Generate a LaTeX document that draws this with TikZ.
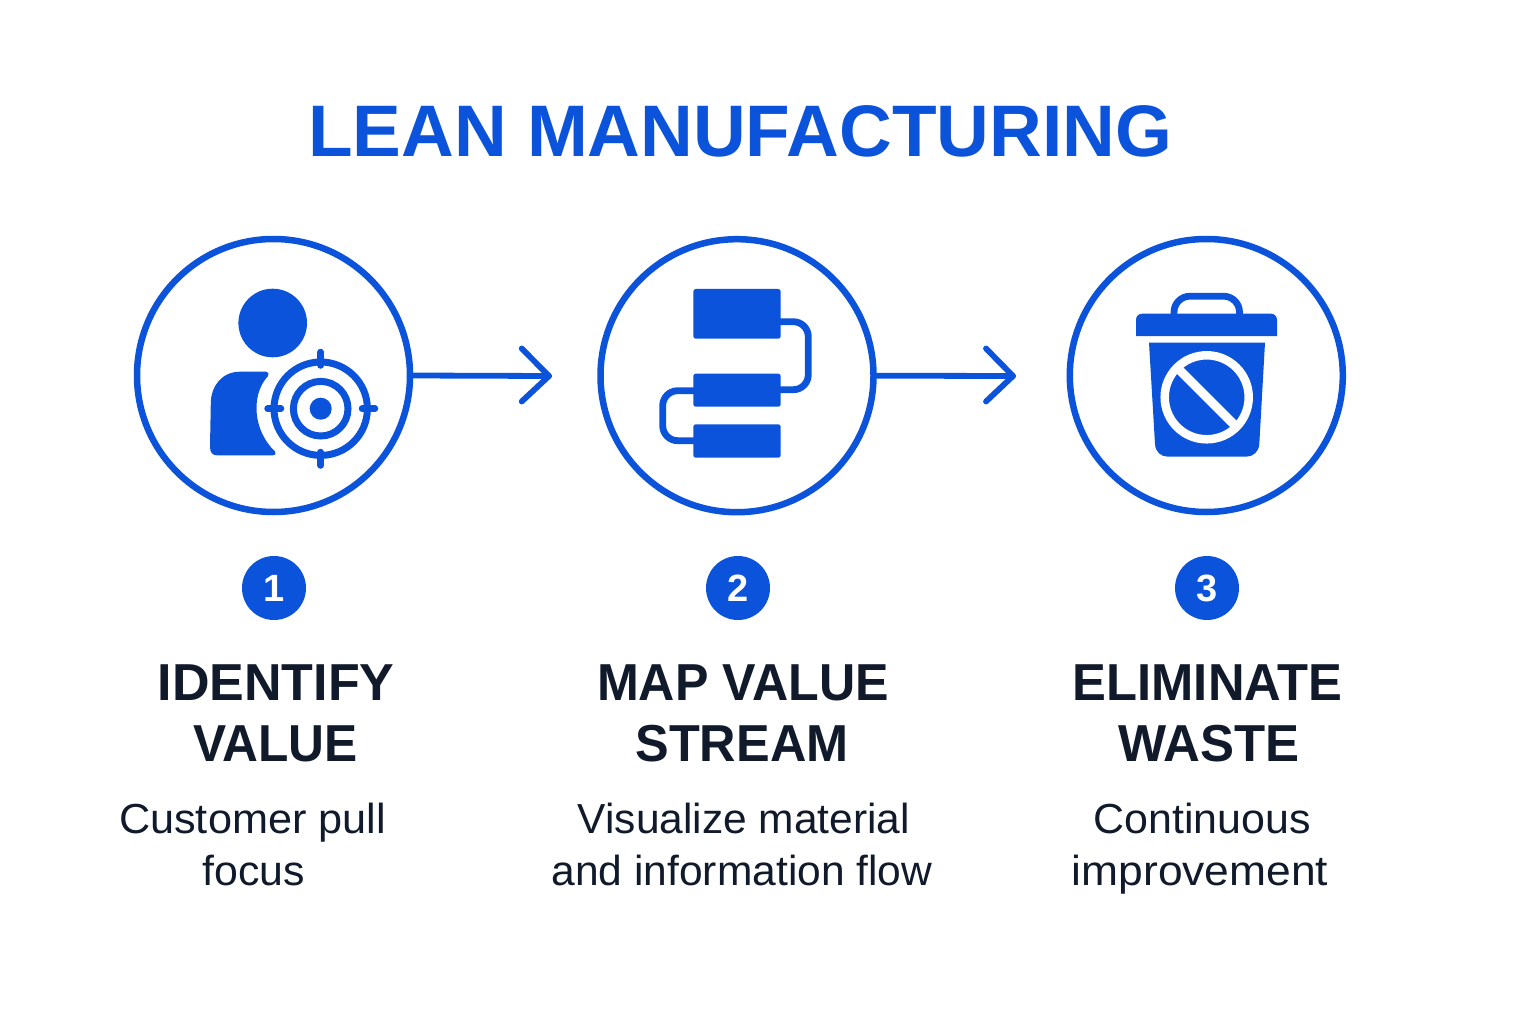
\documentclass[tikz,border=0pt]{standalone}
\usepackage{fontspec}
\setmainfont{Liberation Sans}
\definecolor{leanblue}{HTML}{0A53DA}
\definecolor{leandark}{HTML}{111A2B}
\newcommand{\fs}[1]{\fontsize{#1}{#1}\selectfont}
\newcommand{\hs}[2]{\scalebox{#1}[1]{#2}}
\tikzset{
  ring/.style={circle,draw=leanblue,line width=6.5pt,fill=white,minimum size=273pt,inner sep=0pt},
  flow/.style={draw=leanblue,line width=5.8pt,line cap=round,line join=round},
  solidblue/.style={fill=leanblue,draw=none},
  thick line/.style={draw=leanblue,line width=6.8pt},
  badge/.style={circle,fill=leanblue,minimum size=64pt,inner sep=0pt,text=white,font=\fs{38}\bfseries},
  titletxt/.style={text=leanblue,font=\fs{73}\bfseries,inner sep=0pt,anchor=base},
  headtxt/.style={text=leandark,font=\fs{52}\bfseries,inner sep=0pt,anchor=base},
  desctxt/.style={text=leandark,font=\fs{42},inner sep=0pt,anchor=base},
}
\begin{document}
\begin{tikzpicture}[x=1pt,y=-1pt]
\useasboundingbox (0,0) rectangle (1536,1024);
\fill[white] (0,0) rectangle (1536,1024);
\node[titletxt] (title) at (740,156.5) {LEAN MANUFACTURING};

\node[ring] (c1) at (273.5,375.5) {};
\node[ring] (c2) at (737,375.7) {};
\node[ring] (c3) at (1206.3,375.5) {};

\coordinate (t1) at (549,376);
\coordinate (t2) at (1013,376);
\coordinate (u1) at (521.7,348.5);
\coordinate (l1) at (521.7,401.5);
\coordinate (u2) at (986,348.5);
\coordinate (l2) at (986,401.5);
\draw[flow] (c1.east) -- (t1);
\draw[flow] (u1) -- (t1) -- (l1);
\draw[flow] (c2.east) -- (t2);
\draw[flow] (u2) -- (t2) -- (l2);

% person
\fill[solidblue] (272.7,323) circle (34.3);
\fill[solidblue] (266,371.7) -- (240,371.7)
  .. controls (222,371.7) and (211,386) .. (210.8,403)
  -- (210,447) .. controls (210,452.5) and (212.5,455.3) .. (217,455.3)
  -- (272.5,455.3) .. controls (275.5,455.3) and (276.5,453) .. (275,451.5)
  .. controls (263,440) and (256.5,424) .. (256.5,408)
  .. controls (256.5,396) and (260,385) .. (268,376)
  .. controls (269.5,374) and (268.5,371.7) .. (266,371.7) -- cycle;
% target
\draw[leanblue,line width=7pt] (320.7,408.7) circle (46.7);
\draw[leanblue,line width=7pt] (320.7,408.7) circle (27.3);
\fill[solidblue] (320.7,408.7) circle (11);
\draw[leanblue,line width=6.5pt,line cap=round]
  (320.7,352) -- (320.7,365.5) (320.7,452) -- (320.7,465.5)
  (267.5,408.7) -- (281,408.7) (362,408.7) -- (375,408.7);

% flow chart
\draw[thick line,rounded corners=15pt] (778,321.7) -- (808.3,321.7) -- (808.3,389.7) -- (778,389.7);
\draw[thick line,rounded corners=15pt] (696,390.7) -- (662.7,390.7) -- (662.7,440.7) -- (696,440.7);
\fill[solidblue,rounded corners=2.5pt] (693.3,289) rectangle (780.7,338.7);
\fill[solidblue,rounded corners=2.5pt] (693.3,373.7) rectangle (780.7,406.7);
\fill[solidblue,rounded corners=2.5pt] (693.3,424.3) rectangle (780.7,457.7);

% bin
\draw[thick line,rounded corners=16pt] (1174,316) -- (1174,296.2) -- (1239.5,296.2) -- (1239.5,316);
\fill[solidblue] (1136,336) [rounded corners=6pt] -- (1136,313.7) -- (1277,313.7) [sharp corners] -- (1277,336) -- cycle;
\fill[solidblue] (1149,342.7) -- (1265,342.7) -- (1259.3,444) .. controls (1258.8,452) and (1253,456.7) .. (1246,456.7)
  -- (1168,456.7) .. controls (1161,456.7) and (1155.5,452) .. (1155,444) -- cycle;
\draw[white,line width=8.5pt] (1206.7,397.3) circle (42);
\draw[white,line width=9pt] (1177,367.6) -- (1236.4,427);

% badges
\node[badge] (b1) at (274,588) {1};
\node[badge] (b2) at (738,588) {2};
\node[badge] (b3) at (1207,588) {3};

% labels
\node[headtxt] (h1a) at (276,700.7) {IDENTIFY};
\node[headtxt] (h1b) at (275.5,761.7) {\hs{.955}{VALUE}};
\node[headtxt] (h2a) at (743,700.7) {\hs{.965}{MAP VALUE}};
\node[headtxt] (h2b) at (742,761.7) {\hs{.97}{STREAM}};
\node[headtxt] (h3a) at (1207.5,700.7) {\hs{.975}{ELIMINATE}};
\node[headtxt] (h3b) at (1209,761.7) {\hs{.98}{WASTE}};

\node[desctxt] (d1a) at (252.5,833) {\hs{1.03}{Customer pull}};
\node[desctxt] (d1b) at (254,885) {\hs{1.02}{focus}};
\node[desctxt] (d2a) at (744,833) {\hs{1.012}{Visualize material}};
\node[desctxt] (d2b) at (742,885) {\hs{1.013}{and information flow}};
\node[desctxt] (d3a) at (1202,833) {\hs{1.023}{Continuous}};
\node[desctxt] (d3b) at (1200,885) {\hs{1.057}{improvement}};
\end{tikzpicture}
\end{document}
